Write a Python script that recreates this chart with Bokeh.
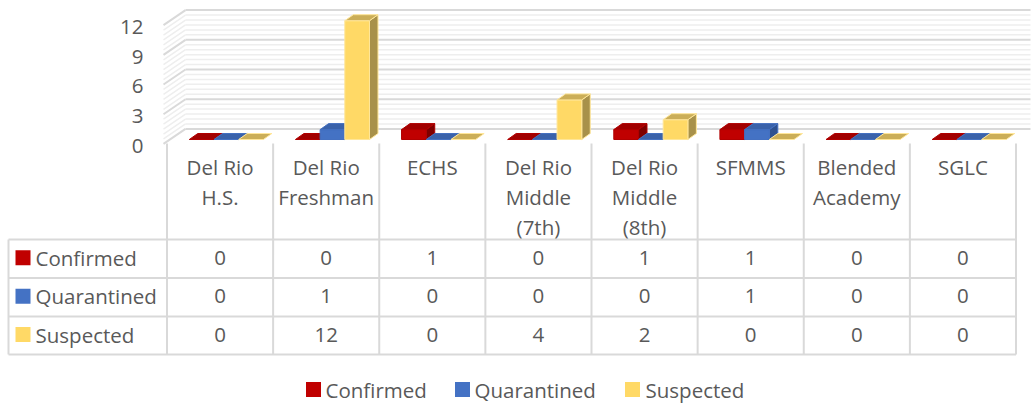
from bokeh.plotting import figure
from bokeh.models import Range1d
from bokeh.embed import file_html
from bokeh.resources import INLINE
from bokeh.core.properties import value

# ---------------- data ----------------
categories = [["Del Rio", "H.S."], ["Del Rio", "Freshman"], ["ECHS"],
              ["Del Rio", "Middle", "(7th)"], ["Del Rio", "Middle", "(8th)"],
              ["SFMMS"], ["Blended", "Academy"], ["SGLC"]]
series_names = ["Confirmed", "Quarantined", "Suspected"]
confirmed = [0, 0, 1, 0, 1, 1, 0, 0]
quarantined = [0, 1, 0, 0, 0, 1, 0, 0]
suspected = [0, 12, 0, 4, 2, 0, 0, 0]
y_ticks = [0, 3, 6, 9, 12]
minor_step = 0.5
y_max = 12

series_values = [confirmed, quarantined, suspected]
front_colors = ["#C00000", "#4472C4", "#FFD966"]
top_colors = ["#A20000", "#3A62AA", "#CBAE58"]
side_colors = ["#7E0000", "#2E5190", "#A8914A"]
edge_colors = ["#B00000", "#4470C0", "#FFE699"]

# ---------------- layout helpers (page pixels -> data units) ----------------
W, H = 1033, 404
COL_L, COL_W = 166.5, 106.125
BASE_PY, PPU = 139.0, 9.9


def X(px):
    return (px - COL_L) / COL_W


def Y(py):
    return (BASE_PY - py) / PPU


FONT = value("Open Sans")
FS = "20.5px"
TXT = "#595959"

p = figure(width=W, height=H, x_range=Range1d(X(0), X(W)),
           y_range=Range1d(Y(H), Y(0)), output_backend="svg",
           toolbar_location=None, min_border=0, x_axis_type=None,
           y_axis_type=None, outline_line_color=None,
           background_fill_color="white", border_fill_color="white")
p.grid.visible = False

# ---------------- walls / gridlines ----------------
WALL_DY = 1.07
WALL_FRONT = WALL_DY - 15 / PPU
n_steps = int(round(y_max / minor_step))
levels = [k * minor_step for k in range(n_steps + 1)]
for major in (False, True):
    lv = [v for v in levels if (abs(v % 3) < 1e-9) == major]
    col = "#D9D9D9" if major else "#EEEEEE"
    lw = 2 if major else 1.5
    p.segment(x0=[X(185)] * len(lv), y0=[v + WALL_DY for v in lv],
              x1=[X(1030)] * len(lv), y1=[v + WALL_DY for v in lv],
              line_color=col, line_width=lw)
    p.segment(x0=[X(163)] * len(lv), y0=[v + WALL_FRONT for v in lv],
              x1=[X(185)] * len(lv), y1=[v + WALL_DY for v in lv],
              line_color=col, line_width=lw)

# ---------------- 3D bars ----------------
GROUP_OFF = 0.21
BW = 24.7 / COL_W
DX = 8.5 / COL_W
DY = 6.0 / PPU
for j, vals in enumerate(series_values):
    side_x, side_y, fr_x, fr_y, top_x, top_y = [], [], [], [], [], []
    for i, v in enumerate(vals):
        x0 = i + GROUP_OFF + j * BW
        x1 = x0 + BW
        if v > 0:
            side_x.append([x1, x1 + DX, x1 + DX, x1])
            side_y.append([0, DY, v + DY, v])
            fr_x.append([x0, x1, x1, x0])
            fr_y.append([0, 0, v, v])
        top_x.append([x0, x1, x1 + DX, x0 + DX])
        top_y.append([v, v, v + DY, v + DY])
    if side_x:
        p.patches(side_x, side_y, fill_color=side_colors[j],
                  line_color=edge_colors[j], line_width=1)
        p.patches(fr_x, fr_y, fill_color=front_colors[j],
                  line_color=edge_colors[j], line_width=1)
    p.patches(top_x, top_y, fill_color=top_colors[j],
              line_color=edge_colors[j], line_width=1)

# ---------------- y tick labels ----------------
p.text(x=[X(143)] * len(y_ticks), y=[t - 0.64 for t in y_ticks],
       text=[str(t) for t in y_ticks], text_font=FONT, text_font_size=FS,
       text_color=TXT, text_align="right", text_baseline="middle")

# ---------------- data table ----------------
TBL = "#D9D9D9"
row_py = [257.3, 295.7, 334.0]
hlines_py = [239, 277.5, 316, 354]
ncat = len(categories)
p.segment(x0=[X(8)] * len(hlines_py), y0=[Y(v) for v in hlines_py],
          x1=[ncat] * len(hlines_py), y1=[Y(v) for v in hlines_py],
          line_color=TBL, line_width=2)
p.segment(x0=[X(8)], y0=[Y(239)], x1=[X(8)], y1=[Y(354)],
          line_color=TBL, line_width=2)
p.segment(x0=list(range(ncat + 1)), y0=[Y(143)] * (ncat + 1),
          x1=list(range(ncat + 1)), y1=[Y(354)] * (ncat + 1),
          line_color=TBL, line_width=2)

hx, hy, ht = [], [], []
for i, lines in enumerate(categories):
    for k, line in enumerate(lines):
        hx.append(i + 0.5)
        hy.append(Y(166.7 + 30 * k))
        ht.append(line)
p.text(x=hx, y=hy, text=ht, text_font=FONT, text_font_size=FS,
       text_color=TXT, text_align="center", text_baseline="middle")

for r, (name, vals) in enumerate(zip(series_names, series_values)):
    yy = Y(row_py[r])
    p.scatter(x=[X(22.5)], y=[yy], marker="square", size=15,
              fill_color=front_colors[r], line_color=None)
    p.text(x=[X(35)], y=[yy], text=[name], text_font=FONT, text_font_size=FS,
           text_color=TXT, text_align="left", text_baseline="middle")
    p.text(x=[i + 0.5 for i in range(ncat)], y=[yy] * ncat,
           text=[str(v) for v in vals], text_font=FONT, text_font_size=FS,
           text_color=TXT, text_align="center", text_baseline="middle")

# ---------------- bottom legend ----------------
leg_py = 389
leg_sq_px = [313, 462, 632]
leg_tx_px = [325, 474, 645]
p.scatter(x=[X(v) for v in leg_sq_px], y=[Y(leg_py)] * 3, marker="square",
          size=15, fill_color=front_colors, line_color=None)
p.text(x=[X(v) for v in leg_tx_px], y=[Y(leg_py)] * 3, text=series_names,
       text_font=FONT, text_font_size=FS, text_color=TXT,
       text_align="left", text_baseline="middle")

open("out.html", "w").write(file_html(p, INLINE))
